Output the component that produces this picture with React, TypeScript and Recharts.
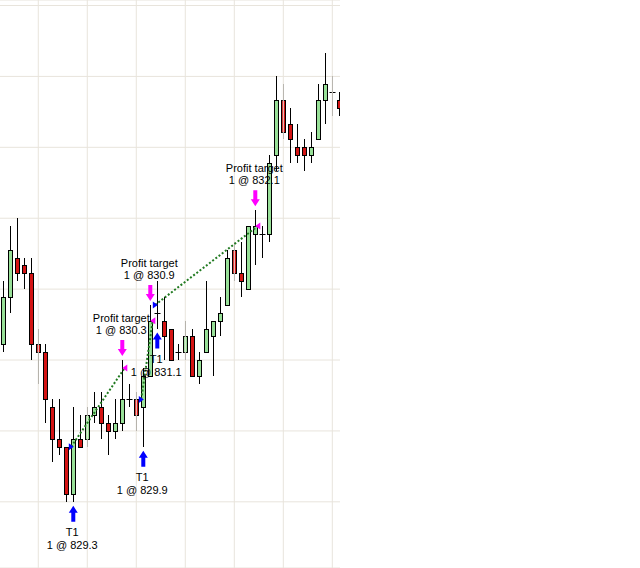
import React from 'react';
import { ComposedChart, Bar, XAxis, YAxis, CartesianGrid, Scatter, ReferenceLine } from 'recharts';

// ---- data ----
const barIndex = [
  0, 1, 2, 3, 4, 5, 6, 7, 8, 9, 10, 11, 12, 13, 14, 15, 16, 17, 18, 19, 20, 21, 22, 23, 24,
  25, 26, 27, 28, 29, 30, 31, 32, 33, 34, 35, 36, 37, 38, 39, 40, 41, 42, 43, 44, 45, 46, 47, 48,
];
const opens = [
  830.6, 831.2, 831.7, 831.6, 831.5, 830.6, 830.5, 829.8, 829.4, 829.3, 828.7, 829.4, 829.4, 829.7, 829.8,
  829.6, 829.5, 829.6, 829.9, 829.9, 829.8, 830.2, 831.0, 830.9, 830.8, 830.5, 830.5, 830.7, 830.2, 830.5,
  830.7, 830.9, 831.1, 831.8, 831.5, 831.3, 832.0, 832.0, 832.0, 833.0, 833.7, 833.4, 833.1, 833.1, 833.0,
  833.2, 833.7, 833.8, 833.7,
];
const highs = [
  831.4, 832.1, 832.2, 831.7, 831.7, 830.8, 830.6, 829.9, 829.9, 829.3, 829.8, 829.7, 829.8, 830.0, 830.0,
  829.7, 829.9, 830.4, 830.1, 830.0, 830.3, 831.1, 831.4, 831.2, 830.8, 830.6, 830.9, 830.8, 830.5, 831.4,
  830.9, 831.2, 831.8, 831.9, 831.9, 832.1, 832.3, 832.1, 833.0, 834.0, 833.9, 833.6, 833.4, 833.2, 833.3,
  833.9, 834.3, 834.0, 833.8,
];
const lows = [
  830.5, 831.0, 831.4, 831.3, 830.4, 830.1, 829.6, 829.1, 829.2, 828.6, 828.6, 829.3, 829.3, 829.6, 829.4,
  829.2, 829.4, 829.5, 829.8, 829.5, 829.3, 830.2, 830.8, 830.4, 830.4, 830.4, 830.4, 830.2, 830.1, 830.5,
  830.2, 830.7, 831.1, 831.4, 831.2, 831.3, 831.6, 831.7, 831.9, 832.8, 833.2, 832.9, 832.9, 832.8, 832.9,
  833.2, 833.4, 833.5, 833.5,
];
const closes = [
  831.2, 831.8, 831.5, 831.5, 830.6, 830.5, 829.9, 829.4, 829.3, 828.7, 829.4, 829.3, 829.7, 829.8, 829.6,
  829.5, 829.6, 829.9, 829.9, 829.7, 830.2, 830.9, 831.0, 830.7, 830.4, 830.5, 830.7, 830.2, 830.4, 830.8,
  830.9, 831.0, 831.7, 831.5, 831.4, 832.1, 832.1, 832.0, 832.9, 833.7, 833.3, 833.2, 833.0, 833.0, 833.1,
  833.7, 833.9, 833.8, 833.6,
];

const xTicks = [5, 12, 19, 26, 33, 40, 47];
const yTicks = [828.6, 829.5, 830.4, 831.3, 832.2, 833.1, 834.0, 834.9];

const entryBars = [10, 20, 22];
const entryPrices = [829.3, 829.9, 831.1];
const exitBars = [17, 21, 36];
const exitPrices = [830.3, 830.9, 832.1];
const entryName = 'T1';
const exitName = 'Profit target';
const quantity = 1;

// ---- tables built from the arrays ----
const candles = barIndex.map((i, k) => ({ i, o: opens[k], h: highs[k], l: lows[k], c: closes[k] }));
const entryFills = entryBars.map((b, k) => ({ i: b, p: entryPrices[k] }));
const exitFills = exitBars.map((b, k) => ({ i: b, p: exitPrices[k] }));
const entryTags = entryBars.map((b, k) => ({ i: b, p: lows[b], price: entryPrices[k] }));
const exitTags = exitBars.map((b, k) => ({ i: b, p: highs[b], price: exitPrices[k] }));

const UP = '#98e098';
const DOWN = '#d41414';
const BLUE = '#0000ff';
const MAGENTA = '#ff00ff';
const GRID = '#e8e4dc';
const FONT = '"Liberation Sans", Arial, sans-serif';

function Candle(props: any) {
  const { x, y, width, height, payload } = props;
  if (!payload || x == null || y == null) return null;
  const top = Math.min(y, y + height);
  const bot = Math.max(y, y + height);
  const span = payload.h - payload.l;
  const py = (v: number) => (span > 0 ? top + ((payload.h - v) / span) * (bot - top) : top);
  const cx = Math.round(x + width / 2) + 0.5;
  const bt = Math.round(py(Math.max(payload.o, payload.c)));
  const bb = Math.round(py(Math.min(payload.o, payload.c)));
  const up = payload.c > payload.o;
  const flat = payload.c === payload.o;
  return (
    <g>
      <line x1={cx} x2={cx} y1={Math.round(top)} y2={Math.round(bot)} stroke="#000" strokeWidth={1} />
      {flat ? (
        <line x1={cx - 3} x2={cx + 3} y1={bt + 0.5} y2={bt + 0.5} stroke="#000" strokeWidth={1} />
      ) : (
        <rect
          x={cx - 2}
          y={bt + 0.5}
          width={4}
          height={Math.max(1, bb - bt)}
          fill={up ? UP : DOWN}
          stroke="#000"
          strokeWidth={1}
        />
      )}
    </g>
  );
}

function EntryFill(props: any) {
  const { cx, cy } = props;
  if (cx == null || cy == null) return null;
  return <path d={`M${cx + 0.5},${cy} L${cx - 4.5},${cy - 3.5} L${cx - 4.5},${cy + 3.5} Z`} fill={BLUE} />;
}

function ExitFill(props: any) {
  const { cx, cy } = props;
  if (cx == null || cy == null) return null;
  return <path d={`M${cx},${cy} L${cx + 5},${cy - 3.5} L${cx + 5},${cy + 3.5} Z`} fill={MAGENTA} />;
}

function EntryTag(props: any) {
  const { cx, cy, payload } = props;
  if (cx == null || cy == null) return null;
  const a = cy + 4;
  return (
    <g>
      <path
        d={`M${cx},${a} L${cx + 4.5},${a + 7} L${cx + 2},${a + 7} L${cx + 2},${a + 16} L${cx - 2},${a + 16} L${cx - 2},${a + 7} L${cx - 4.5},${a + 7} Z`}
        fill={BLUE}
      />
      <text x={cx - 1} y={cy + 34} textAnchor="middle" fontFamily={FONT} fontSize={11} fill="#000">
        {entryName}
      </text>
      <text x={cx - 1} y={cy + 47} textAnchor="middle" fontFamily={FONT} fontSize={11} fill="#000">
        {`${quantity} @ ${payload.price.toFixed(1)}`}
      </text>
    </g>
  );
}

function ExitTag(props: any) {
  const { cx, cy, payload } = props;
  if (cx == null || cy == null) return null;
  const a = cy - 4;
  return (
    <g>
      <path
        d={`M${cx},${a} L${cx + 4.5},${a - 7} L${cx + 2},${a - 7} L${cx + 2},${a - 16} L${cx - 2},${a - 16} L${cx - 2},${a - 7} L${cx - 4.5},${a - 7} Z`}
        fill={MAGENTA}
      />
      <text x={cx - 1} y={cy - 38} textAnchor="middle" fontFamily={FONT} fontSize={11} fill="#000">
        {exitName}
      </text>
      <text x={cx - 1} y={cy - 26} textAnchor="middle" fontFamily={FONT} fontSize={11} fill="#000">
        {`${quantity} @ ${payload.price.toFixed(1)}`}
      </text>
    </g>
  );
}

export default function App() {
  return (
    <div style={{ position: 'absolute', left: 0, top: 0, width: 640, height: 568, background: '#fff' }}>
      <div style={{ width: 340, height: 568, overflow: 'hidden' }}>
        <ComposedChart width={350} height={568} data={candles} margin={{ top: 0, right: 10, bottom: 0, left: 0 }}>
          <XAxis
            type="number"
            dataKey="i"
            domain={[-0.47, 48.1]}
            ticks={xTicks}
            allowDataOverflow
            hide
          />
          <YAxis type="number" domain={[827.76, 834.97]} ticks={yTicks} allowDataOverflow hide />
          <CartesianGrid stroke={GRID} strokeWidth={1} vertical={false} />
          {xTicks.map((t) => (
            <ReferenceLine key={`g${t}`} x={t} stroke={GRID} strokeWidth={1} />
          ))}
          <Scatter data={entryTags} dataKey="p" shape={EntryTag} isAnimationActive={false} />
          <Scatter data={exitTags} dataKey="p" shape={ExitTag} isAnimationActive={false} />
          <Bar
            dataKey={(d: any) => [d.l, d.h]}
            barSize={5}
            shape={Candle}
            isAnimationActive={false}
          />
          {entryBars.map((b, k) => (
            <ReferenceLine
              key={`t${k}`}
              segment={[
                { x: b - 0.3, y: entryPrices[k] },
                { x: exitBars[k] + 0.35, y: exitPrices[k] },
              ]}
              stroke="#207a20"
              strokeWidth={2}
              strokeDasharray="2 2"
              ifOverflow="visible"
            />
          ))}
          <Scatter data={entryFills} dataKey="p" shape={EntryFill} isAnimationActive={false} />
          <Scatter data={exitFills} dataKey="p" shape={ExitFill} isAnimationActive={false} />
        </ComposedChart>
      </div>
    </div>
  );
}
